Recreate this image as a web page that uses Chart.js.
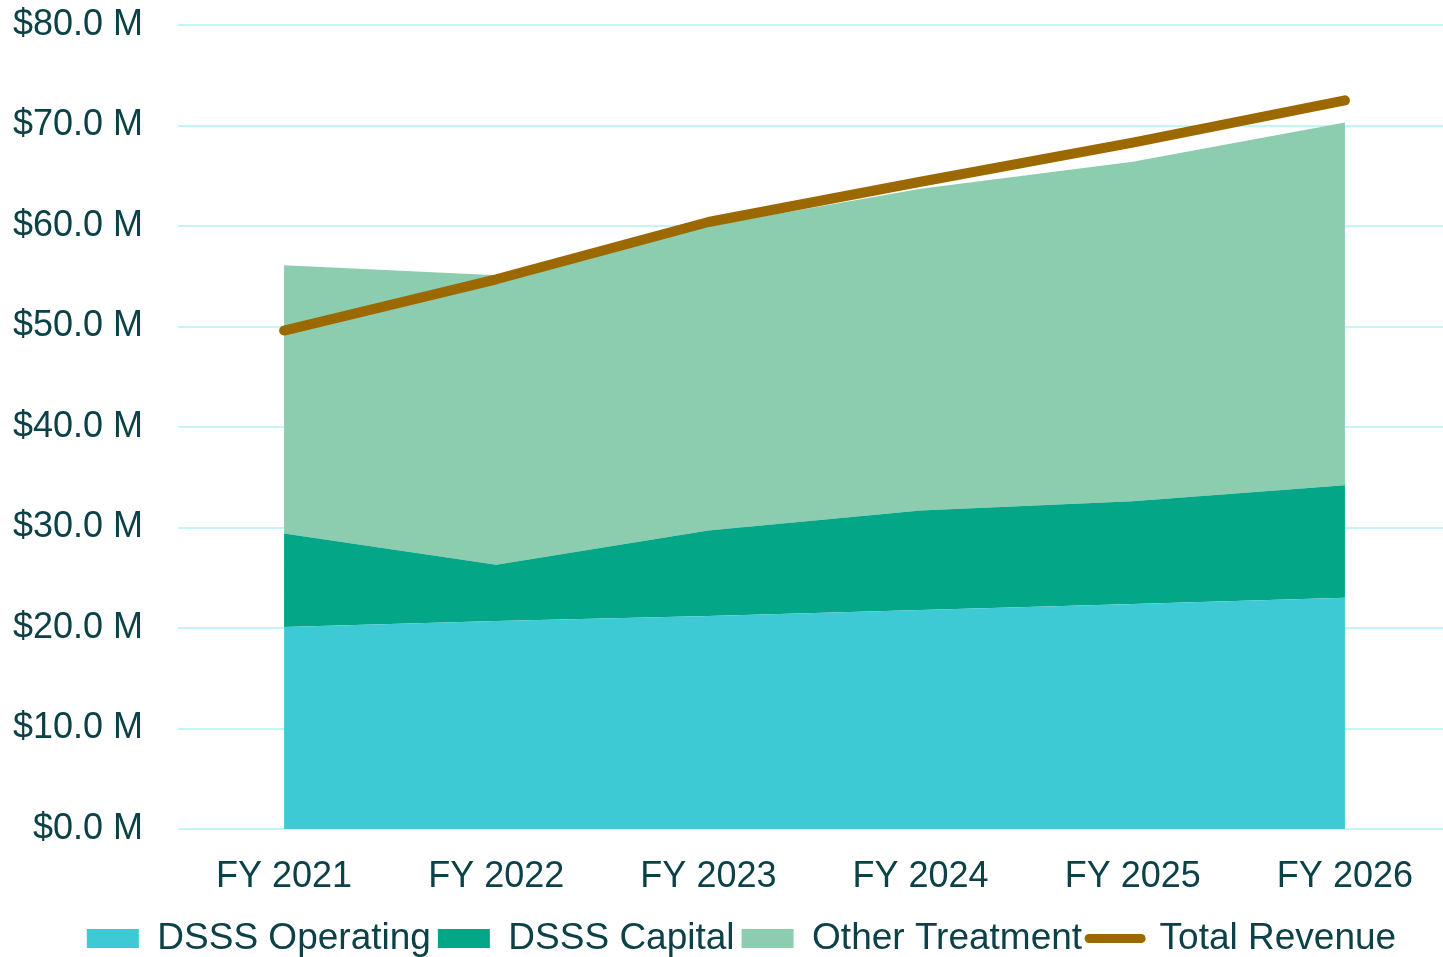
<!DOCTYPE html>
<html>
<head>
<meta charset="utf-8">
<script src="https://cdn.jsdelivr.net/npm/chart.js@4.4.1/dist/chart.umd.min.js"></script>
<style>
html, body { margin: 0; background: #fff; overflow: hidden; }
/* plot runs a few px past the right edge, as in the original */
#wrap { width: 1451px; height: 957px; position: relative; }
</style>
</head>
<body>
<div id="wrap"><canvas id="revenueChart"></canvas></div>
<script>
/* DATA ($ millions) */
const years = ["FY 2021", "FY 2022", "FY 2023", "FY 2024", "FY 2025", "FY 2026"];
const dsssOperating = [20.1, 20.7, 21.2, 21.8, 22.4, 23.0];
const dsssCapital = [9.3, 5.6, 8.5, 9.9, 10.2, 11.2];
const otherTreatment = [26.7, 28.8, 30.3, 32.0, 33.8, 36.1];
const totalRevenue = [49.6, 54.7, 60.4, 64.4, 68.3, 72.5];

const textColor = "#0b4147";
const gridColor = "#c6f5f8";

Chart.defaults.font.family = "'Liberation Sans', Arial, sans-serif";
Chart.defaults.color = textColor;

function areaSet(label, data, color, fill) {
return {
label: label,
data: data,
backgroundColor: color,
borderColor: color,
borderWidth: 0,
pointRadius: 0,
tension: 0,
fill: fill,
stack: "areas",
order: 1
};
}

/* nudge the legend a little to the right, like the original */
const legendNudge = {
id: "legendNudge",
afterLayout(chart) {
chart.legend.left += 10;
chart.legend.right += 10;
}
};

const ctx = document.getElementById("revenueChart");

new Chart(ctx, {

type: "line",

data: {
labels: years,
datasets: [
areaSet("DSSS Operating", dsssOperating, "#3ecad5", "origin"),
areaSet("DSSS Capital", dsssCapital, "#03a686", "-1"),
areaSet("Other Treatment", otherTreatment, "#8ccdaf", "-1"),
{
label: "Total Revenue",
data: totalRevenue,
borderColor: "#9c6800",
backgroundColor: "#9c6800",
borderWidth: 10,
borderCapStyle: "round",
borderJoinStyle: "round",
pointRadius: 0,
tension: 0,
fill: false,
stack: "total",
order: 0
}
]
},

plugins: [legendNudge],

options: {
responsive: true,
maintainAspectRatio: false,
animation: false,
layout: {
padding: { left: 12, right: 0, top: 25, bottom: -10 }
},
plugins: {
tooltip: { enabled: false },
legend: {
position: "bottom",
labels: {
usePointStyle: true,
pointStyleWidth: 52,
boxHeight: 19,
padding: 7,
font: { size: 37 },
color: textColor,
sort: (a, b) => a.datasetIndex - b.datasetIndex,
generateLabels: function (chart) {
const items = Chart.defaults.plugins.legend.labels.generateLabels(chart);
items.forEach(item => {
if (item.datasetIndex === 3) {
item.pointStyle = "line";
item.lineWidth = 9;
item.lineCap = "round";
item.strokeStyle = "#9c6800";
} else {
item.pointStyle = "rect";
item.lineWidth = 0;
}
});
return items;
}
}
}
},
scales: {
x: {
offset: true,
grid: { display: false, drawTicks: false },
border: { display: false },
ticks: { padding: 26, font: { size: 36 }, color: textColor },
afterFit: scale => {
scale.height = 84;
scale.paddingLeft = 0;
scale.paddingRight = 0;
}
},
y: {
stacked: true,
min: 0,
max: 80,
grid: { color: gridColor, lineWidth: 2, drawTicks: false },
border: { display: false },
ticks: {
stepSize: 10,
padding: 35,
font: { size: 36 },
color: textColor,
callback: v => "$" + v.toFixed(1) + " M"
},
afterFit: scale => {
scale.width = 166;
scale.paddingTop = 0;
scale.paddingBottom = 0;
}
}
}
}

});
</script>
</body>
</html>
